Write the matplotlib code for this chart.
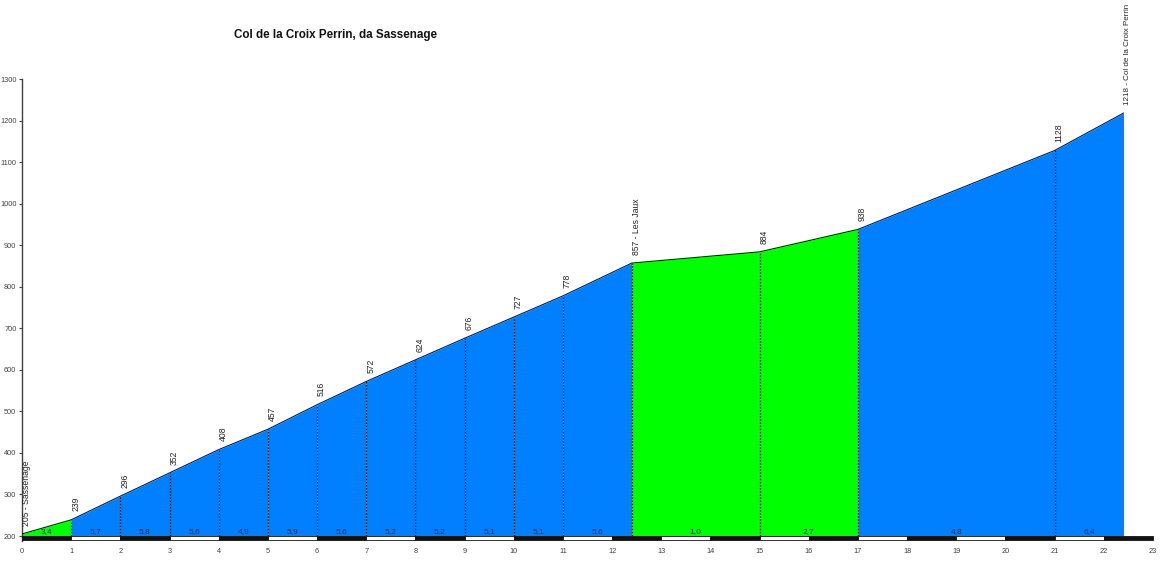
import matplotlib
matplotlib.use("Agg")
import matplotlib.pyplot as plt
from matplotlib.patches import Rectangle

# Data
km = [0, 1, 2, 3, 4, 5, 6, 7, 8, 9, 10, 11, 12.4, 15, 17, 21, 22.4]
elev = [205, 239, 296, 352, 408, 457, 516, 572, 624, 676, 727, 778, 857, 884, 938, 1128, 1218]
point_names = {0: "Sassenage", 12.4: "Les Jaux", 22.4: "Col de la Croix Perrin"}
grades = ["3,4", "5,7", "5,8", "5,6", "4,9", "5,9", "5,6", "5,2", "5,2", "5,1",
          "5,1", "5,6", "1,0", "2,7", "4,8", "6,4"]
seg_colors = ["#00FF00", "#0080FF", "#0080FF", "#0080FF", "#0080FF", "#0080FF",
              "#0080FF", "#0080FF", "#0080FF", "#0080FF", "#0080FF", "#0080FF",
              "#00FF00", "#00FF00", "#0080FF", "#0080FF"]
title = "Col de la Croix Perrin, da Sassenage"
yticks = list(range(200, 1301, 100))
xticks = list(range(0, 24))

plt.rcParams['font.family'] = ['Liberation Sans', 'DejaVu Sans']

fig = plt.figure(figsize=(11.74, 5.88), dpi=100)
ax = fig.add_axes([22 / 1174, 47.4 / 588, 1131 / 1174, 461.6 / 588])
ax.set_xlim(0, 23)
ax.set_ylim(189, 1300)

base = 200
# Segments
for i in range(len(km) - 1):
    ax.fill_between([km[i], km[i + 1]], [elev[i], elev[i + 1]], base,
                    color=seg_colors[i], linewidth=0, zorder=1)
    xm = (km[i] + km[i + 1]) / 2
    ax.text(xm, base + 1.5, grades[i], ha='center', va='bottom', fontsize=6.0,
            color='#1c3358', zorder=4)

# Profile outline
ax.plot(km, elev, color='#1a1a1a', linewidth=0.8, zorder=3)

# Dotted vertical lines
for x, y in zip(km[1:-1], elev[1:-1]):
    ax.plot([x, x], [base, y], color='#111111', linestyle=(0, (1.2, 1.3)),
            linewidth=0.9, zorder=2)

# Elevation labels
for x, y in zip(km, elev):
    label = str(y)
    fs = 6.2
    if x in point_names:
        label = f"{y} - {point_names[x]}"
    if x == km[-1]:
        fs = 5.8
    ax.annotate(label, (x, y), xytext=(3.2, 6.0), textcoords='offset points',
                rotation=90, ha='center', va='bottom', fontsize=fs,
                color='#222222', annotation_clip=False, zorder=5)

# Kilometre strip
for k in range(23):
    fc = '#111111' if k % 2 == 0 else 'white'
    ax.add_patch(Rectangle((k, 189.5), 1, 10.0, facecolor=fc,
                           edgecolor='#111111', linewidth=0.6, zorder=3,
                           clip_on=False))

# Axes styling
for s in ['top', 'right', 'bottom']:
    ax.spines[s].set_visible(False)
ax.spines['left'].set_color('#404040')
ax.spines['left'].set_linewidth(1.0)
ax.set_yticks(yticks)
ax.set_yticklabels([str(v) for v in yticks], fontsize=5.3, color='#404040')
ax.tick_params(axis='y', length=2.5, width=0.8, color='#404040', pad=1.5)
ax.set_xticks(xticks)
ax.set_xticklabels([str(v) for v in xticks], fontsize=5.3, color='#404040')
ax.tick_params(axis='x', length=0, pad=5)

fig.text(336 / 1174, 1 - 35 / 588, title, ha='center', va='center',
         fontsize=8.4, fontweight='bold', color='#111111')

fig.savefig("out.png", dpi=100)
